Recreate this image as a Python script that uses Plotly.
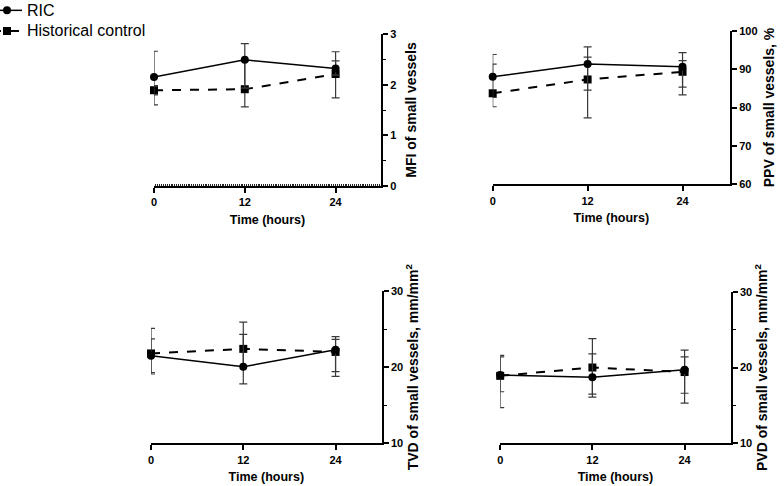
import plotly.graph_objects as go

time = [0, 12, 24]

mfi_ric = [2.15, 2.49, 2.32]
mfi_ric_hi = [2.66, 2.81, 2.65]
mfi_ric_lo = [1.60, 1.93, 2.19]
mfi_hc = [1.89, 1.91, 2.21]
mfi_hc_hi = [1.98, 2.47, 2.47]
mfi_hc_lo = [1.80, 1.56, 1.74]

ppv_ric = [88.0, 91.3, 90.6]
ppv_ric_hi = [93.8, 95.8, 94.3]
ppv_ric_lo = [82.6, 84.5, 85.3]
ppv_hc = [83.7, 87.3, 89.3]
ppv_hc_hi = [91.3, 93.1, 92.2]
ppv_hc_lo = [80.2, 77.3, 83.3]

tvd_ric = [21.5, 20.05, 22.3]
tvd_ric_hi = [23.7, 24.3, 24.0]
tvd_ric_lo = [19.1, 17.8, 19.4]
tvd_hc = [21.8, 22.4, 22.0]
tvd_hc_hi = [25.1, 25.9, 23.65]
tvd_hc_lo = [19.3, 20.1, 18.8]

pvd_ric = [19.0, 18.7, 19.7]
pvd_ric_hi = [21.6, 21.8, 22.3]
pvd_ric_lo = [16.8, 16.1, 16.6]
pvd_hc = [18.9, 20.0, 19.4]
pvd_hc_hi = [21.4, 23.8, 21.4]
pvd_hc_lo = [14.7, 16.5, 15.3]

panels = [
    ("x", "y", mfi_ric, mfi_ric_hi, mfi_ric_lo, mfi_hc, mfi_hc_hi, mfi_hc_lo),
    ("x2", "y2", ppv_ric, ppv_ric_hi, ppv_ric_lo, ppv_hc, ppv_hc_hi, ppv_hc_lo),
    ("x3", "y3", tvd_ric, tvd_ric_hi, tvd_ric_lo, tvd_hc, tvd_hc_hi, tvd_hc_lo),
    ("x4", "y4", pvd_ric, pvd_ric_hi, pvd_ric_lo, pvd_hc, pvd_hc_hi, pvd_hc_lo),
]

FONT = "Arial, Liberation Sans, sans-serif"
ERRC = "#3a3a3a"

fig = go.Figure()
for i, (xa, ya, r, rhi, rlo, h, hhi, hlo) in enumerate(panels):
    fig.add_trace(go.Scatter(
        x=time, y=h, xaxis=xa, yaxis=ya,
        name="<span style='font-size:16px'>Historical control</span>",
        mode="lines+markers", cliponaxis=False, showlegend=(i == 0), legendrank=2,
        line=dict(color="black", width=2, dash="dash"),
        marker=dict(symbol="square", size=8, color="black"),
        error_y=dict(type="data", symmetric=False,
                     array=[a - b for a, b in zip(hhi, h)],
                     arrayminus=[b - a for a, b in zip(hlo, h)],
                     color=ERRC, thickness=1.2, width=4),
    ))
    fig.add_trace(go.Scatter(
        x=time, y=r, xaxis=xa, yaxis=ya,
        name="<span style='font-size:16px'>RIC</span>",
        mode="lines+markers", cliponaxis=False, showlegend=(i == 0), legendrank=1,
        line=dict(color="black", width=1.5),
        marker=dict(symbol="circle", size=8, color="black"),
        error_y=dict(type="data", symmetric=False,
                     array=[a - b for a, b in zip(rhi, r)],
                     arrayminus=[b - a for a, b in zip(rlo, r)],
                     color=ERRC, thickness=1.2, width=4),
    ))

xcommon = dict(range=[0, 30], tickvals=time, showline=True, linewidth=2, linecolor="black",
               ticks="outside", ticklen=5, tickwidth=1.5, tickcolor="black",
               showgrid=False, zeroline=False, automargin=False,
               tickfont=dict(family=FONT, size=11, color="black", weight="bold"),
               title=dict(text="Time (hours)", standoff=8,
                          font=dict(family=FONT, size=12.5, color="black", weight="bold")))

def ycommon(rng, dtick, minor, title, standoff):
    d = dict(range=rng, dtick=dtick, tick0=rng[0], side="right", showline=True, linewidth=2,
             linecolor="black", ticks="outside", ticklen=5, tickwidth=1.5, tickcolor="black",
             showgrid=False, zeroline=False, automargin=False,
             tickfont=dict(family=FONT, size=11, color="black", weight="bold"),
             title=dict(text=title, standoff=standoff,
                        font=dict(family=FONT, size=14, color="black", weight="bold")))
    if minor:
        d["minor"] = dict(dtick=minor, ticks="outside", ticklen=3, tickwidth=1.2, tickcolor="black")
    return d

W, H = 784, 486

fig.update_layout(
    width=W, height=H, autosize=False,
    margin=dict(l=0, r=0, t=0, b=0, autoexpand=False),
    paper_bgcolor="white", plot_bgcolor="white",
    font=dict(family=FONT, color="black"),
    xaxis=dict(domain=[154 / W, 381 / W], anchor="y",
               minor=dict(tickvals=[v / 4 for v in range(1, 120)], ticks="inside",
                          ticklen=2, tickwidth=1, tickcolor="#222"),
               **xcommon),
    yaxis=dict(domain=[1 - 186 / H, 1 - 34 / H], anchor="x",
               **ycommon([0, 3], 1, 0.5, "MFI of small vessels", 11)),
    xaxis2=dict(domain=[492.7 / W, 730 / W], anchor="y2", **xcommon),
    yaxis2=dict(domain=[1 - 184.3 / H, 1 - 30.7 / H], anchor="x2",
                **ycommon([60, 100], 10, None, "PPV of small vessels, %", 8)),
    xaxis3=dict(domain=[151 / W, 381.7 / W], anchor="y3", **xcommon),
    yaxis3=dict(domain=[1 - 443.3 / H, 1 - 291 / H], anchor="x3",
                **ycommon([10, 30], 10, 5, "TVD of small vessels, mm/mm<sup>2</sup>", 6)),
    xaxis4=dict(domain=[500.2 / W, 730.7 / W], anchor="y4", **xcommon),
    yaxis4=dict(domain=[1 - 443.3 / H, 1 - 291.7 / H], anchor="x4",
                **ycommon([10, 30], 10, 5, "PVD of small vessels, mm/mm<sup>2</sup>", 5)),
    legend=dict(x=-13 / W, y=1 + 5 / H, xanchor="left", yanchor="top", bgcolor="rgba(0,0,0,0)",
                font=dict(family=FONT, size=13.6, color="black"), tracegroupgap=0,
                traceorder="normal"),
    annotations=[dict(x=12, y=3.07, xref="x", yref="y", text="*", showarrow=False,
                      font=dict(family=FONT, size=20, color="black"))],
)

fig.write_html("out.html", config={"displayModeBar": False},
               post_script="document.body.style.margin='0px';")
